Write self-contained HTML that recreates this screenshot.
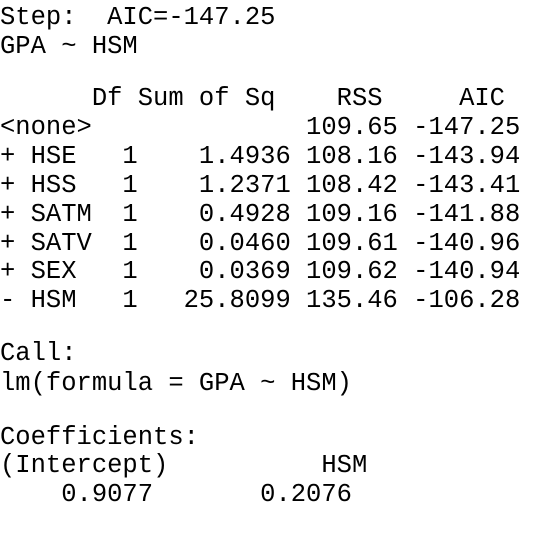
<!DOCTYPE html>
<html><head><meta charset="utf-8"><style>
html,body{margin:0;padding:0;background:#fff;width:543px;height:536px;overflow:hidden}
.l{position:absolute;left:0;height:29px;line-height:29px;font-family:"Liberation Mono",monospace;font-size:25.5px;color:#000;white-space:pre}
</style></head><body>
<div>
<div class="l" style="top:3px">Step:  AIC=-147.25</div>
<div class="l" style="top:32px">GPA ~ HSM</div>
<div class="l" style="top:84px">      Df Sum of Sq    RSS     AIC</div>
<div class="l" style="top:113px">&lt;none&gt;              109.65 -147.25</div>
<div class="l" style="top:142px">+ HSE   1    1.4936 108.16 -143.94</div>
<div class="l" style="top:171px">+ HSS   1    1.2371 108.42 -143.41</div>
<div class="l" style="top:200px">+ SATM  1    0.4928 109.16 -141.88</div>
<div class="l" style="top:229px">+ SATV  1    0.0460 109.61 -140.96</div>
<div class="l" style="top:257px">+ SEX   1    0.0369 109.62 -140.94</div>
<div class="l" style="top:286px">- HSM   1   25.8099 135.46 -106.28</div>
<div class="l" style="top:339px">Call:</div>
<div class="l" style="top:369px">lm(formula = GPA ~ HSM)</div>
<div class="l" style="top:423px">Coefficients:</div>
<div class="l" style="top:451px">(Intercept)          HSM  </div>
<div class="l" style="top:480px">    0.9077       0.2076  </div>
</div>
</body></html>
